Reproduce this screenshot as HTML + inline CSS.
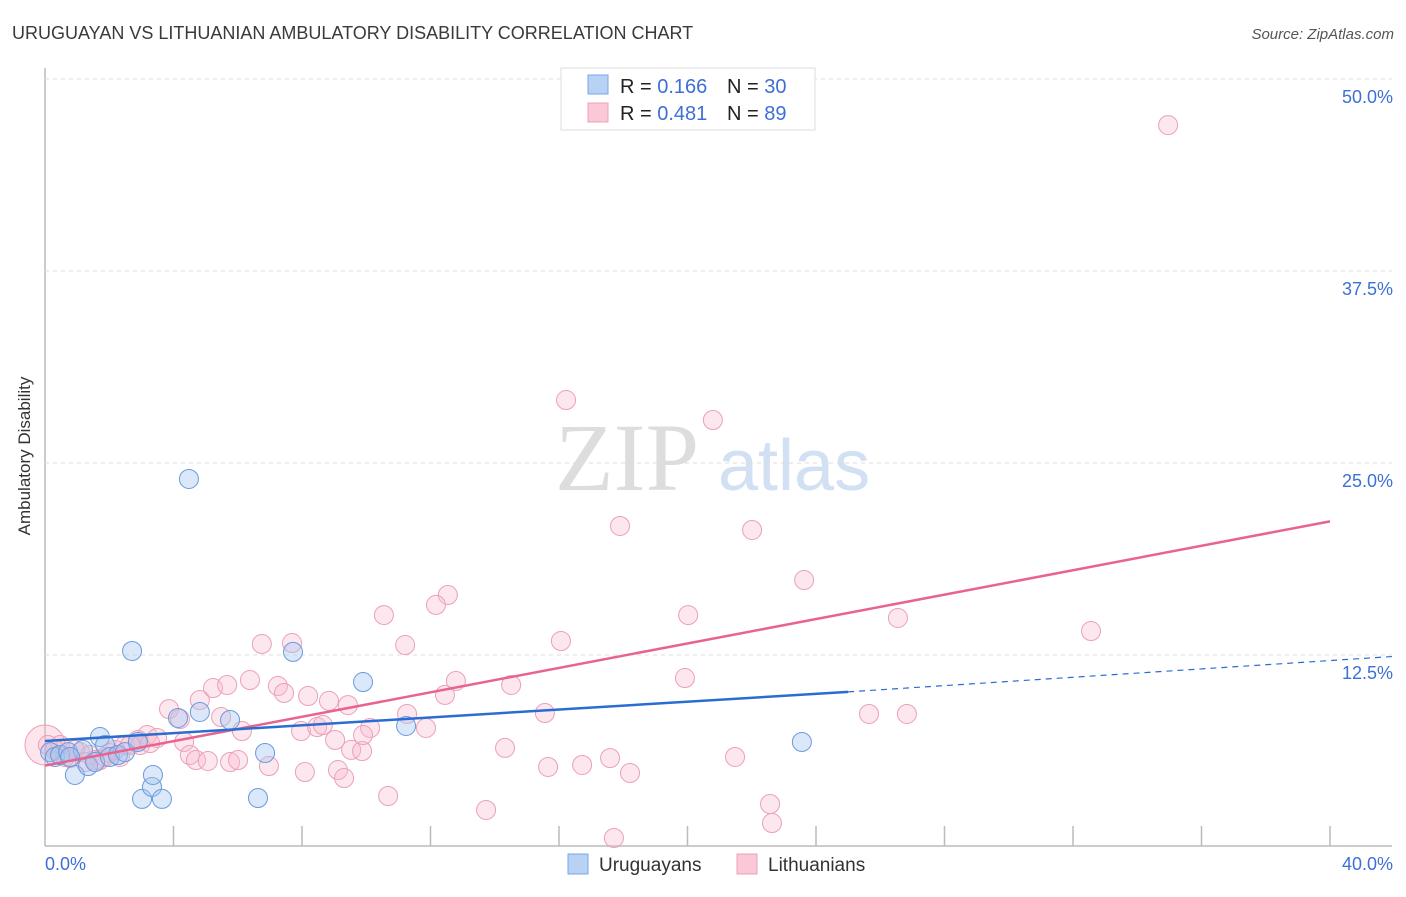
<!DOCTYPE html>
<html><head><meta charset="utf-8"><style>
body{margin:0;background:#fff;font-family:"Liberation Sans",sans-serif}
</style></head><body>
<svg id="c" width="1406" height="892" xmlns="http://www.w3.org/2000/svg">
<text x="12" y="39" font-size="18" fill="#3a3a3a">URUGUAYAN VS LITHUANIAN AMBULATORY DISABILITY CORRELATION CHART</text>
<text x="1394" y="39" font-size="15" fill="#555" font-style="italic" text-anchor="end">Source: ZipAtlas.com</text>
<text x="30" y="456" font-size="17" fill="#333" text-anchor="middle" transform="rotate(-90 30 456)">Ambulatory Disability</text>
<text x="555" y="490" font-size="96" fill="#ddd" font-family="Liberation Serif,serif">ZIP</text>
<text x="718" y="490" font-size="72" fill="#d2e0f4">atlas</text>
<g id="grid"></g><g id="pts"></g><g id="lines"></g>
<g>
<rect x="561" y="68" width="254" height="62" fill="#fff" stroke="#ddd"/>
<rect x="588" y="75" width="20" height="19" fill="#b8d2f5" stroke="#7aa6e6"/>
<rect x="588" y="103" width="20" height="19" fill="#fac8d6" stroke="#eca0b8"/>
<text x="620" y="93" font-size="20" fill="#222">R = <tspan fill="#3d6fd6">0.166</tspan></text>
<text x="727" y="93" font-size="20" fill="#222">N = <tspan fill="#3d6fd6">30</tspan></text>
<text x="620" y="120" font-size="20" fill="#222">R = <tspan fill="#3d6fd6">0.481</tspan></text>
<text x="727" y="120" font-size="20" fill="#222">N = <tspan fill="#3d6fd6">89</tspan></text>
</g>
<g>
<rect x="568" y="854" width="20" height="20" fill="#b8d2f5" stroke="#7aa6e6"/>
<text x="599" y="871" font-size="19" fill="#333">Uruguayans</text>
<rect x="737" y="854" width="20" height="20" fill="#fac8d6" stroke="#eca0b8"/>
<text x="768" y="871" font-size="19" fill="#333">Lithuanians</text>
</g>
</svg>
<script>
const yTicks=[12.5,25,37.5,50];
const yTickLabels=["12.5%","25.0%","37.5%","50.0%"];
const xTicks=[4,8,12,16,20,24,28,32,36,40];
const xTickLabels=["0.0%","40.0%"];
const uruX=[0.16,0.31,0.47,0.72,0.93,1.18,1.34,1.56,1.71,1.87,2.02,2.27,2.49,2.71,2.89,3.02,3.33,3.36,3.64,4.14,4.48,4.82,5.76,6.63,6.85,7.72,9.90,11.24,23.56,0.78];
const uruY=[6.18,5.86,5.99,6.18,4.69,6.32,5.27,5.53,7.16,6.64,5.86,5.99,6.18,12.76,6.84,3.13,3.91,4.69,3.13,8.40,23.96,8.79,8.27,3.19,6.12,12.70,10.74,7.88,6.84,5.86];
const litX=[34.96,16.22,20.79,17.90,22.01,23.63,12.54,12.17,10.55,20.02,26.55,32.56,6.75,7.69,11.21,16.06,6.38,7.25,12.79,14.51,19.92,5.23,5.67,7.44,8.19,8.84,9.43,12.45,3.86,4.20,5.48,6.13,7.97,8.47,8.65,10.12,11.27,11.86,15.56,25.65,26.83,3.18,3.49,4.33,2.49,2.89,4.51,4.70,5.07,5.76,6.01,6.97,8.09,9.12,9.31,9.53,9.87,14.32,15.66,16.72,17.59,18.21,21.48,10.68,13.73,17.71,22.57,22.63,4.82,0.47,0.78,1.09,1.40,1.71,2.02,2.33,2.65,2.96,3.27,0.09,0.31,0.62,0.93,1.25,1.56,1.87,2.18,9.03,9.90];
const litY=[47.0,29.10,27.80,20.90,20.64,17.38,16.41,15.76,15.10,15.10,14.91,14.06,13.22,13.28,13.15,13.41,10.87,10.48,10.81,10.55,11.00,10.35,10.55,10.03,9.83,9.51,9.24,9.90,8.98,8.33,8.46,7.55,7.55,7.81,7.94,7.75,8.66,7.75,8.72,8.66,8.66,7.29,7.10,6.84,6.64,6.97,5.99,5.66,5.60,5.53,5.66,5.27,4.88,5.01,4.49,6.32,6.25,6.45,5.21,5.34,5.79,4.82,5.86,3.32,2.41,0.59,2.80,1.56,9.57,6.64,5.79,6.18,5.99,5.66,6.12,5.86,6.64,6.64,6.77,6.64,6.32,5.86,6.32,5.53,5.66,5.86,6.32,6.97,7.29];
const uruTrend=[[0,6.9],[25,10.1]];
const uruDash=[[25,10.1],[41.93,12.4]];
const litTrend=[[0,5.3],[40,21.2]];
const X=v=>45+v*32.125, Y=v=>847-v*15.36;
const NS="http://www.w3.org/2000/svg";
function mk(t,a,p){const e=document.createElementNS(NS,t);for(const k in a)e.setAttribute(k,a[k]);p.appendChild(e);return e;}
const g=document.getElementById('grid');
let ax=mk('line',{x1:45,y1:68,x2:45,y2:846,stroke:'#bbb','stroke-width':1.5},g);


ax=mk('line',{x1:45,y1:846,x2:1392,y2:846,stroke:'#bbb','stroke-width':1.5},g);


yTicks.forEach((t,i)=>{
 const l=mk('line',{x1:45,y1:Y(t),x2:1392,y2:Y(t),stroke:'#ddd','stroke-dasharray':'4,4'},g);
 
 
 const tx=mk('text',{x:1393,y:Y(t)+24,'font-size':18,fill:'#3d6fd6','text-anchor':'end'},g);
 tx.textContent=yTickLabels[i];
 
 
});
xTicks.forEach(t=>{
 const l=mk('line',{x1:X(t),y1:826,x2:X(t),y2:846,stroke:'#bbb','stroke-width':1.5},g);
 
 
});
let tx=mk('text',{x:45,y:870,'font-size':18,fill:'#3d6fd6'},g);tx.textContent=xTickLabels[0];


tx=mk('text',{x:1393,y:870,'font-size':18,fill:'#3d6fd6','text-anchor':'end'},g);tx.textContent=xTickLabels[1];


const p=document.getElementById('pts');
let big=mk('circle',{cx:X(0),cy:Y(6.64),r:20,fill:'rgba(248,180,200,0.35)',stroke:'#eba0b8'},p);


litX.forEach((v,i)=>{const c=mk('circle',{cx:X(v),cy:Y(litY[i]),r:9.5,fill:'rgba(248,185,205,0.35)',stroke:'#eba0b8','stroke-width':1},p);
 
 });
uruX.forEach((v,i)=>{const c=mk('circle',{cx:X(v),cy:Y(uruY[i]),r:9.5,fill:'rgba(165,198,240,0.4)',stroke:'#6a9ade','stroke-width':1},p);
 
 });
const L=document.getElementById('lines');
function ln(s,st,w,d,n){const e=mk('line',{x1:X(s[0][0]),y1:Y(s[0][1]),x2:X(s[1][0]),y2:Y(s[1][1]),stroke:st,'stroke-width':w},L);if(d)e.setAttribute('stroke-dasharray',d);
 
 }
ln(litTrend,'#e8648f',2.5,null,'trend-lithuanians');
ln(uruTrend,'#2a6dd2',2.5,null,'trend-uruguayans');
ln(uruDash,'#2a6dd2',1.2,'6,5','trend-uruguayans-extrapolated');
</script>
</body></html>
